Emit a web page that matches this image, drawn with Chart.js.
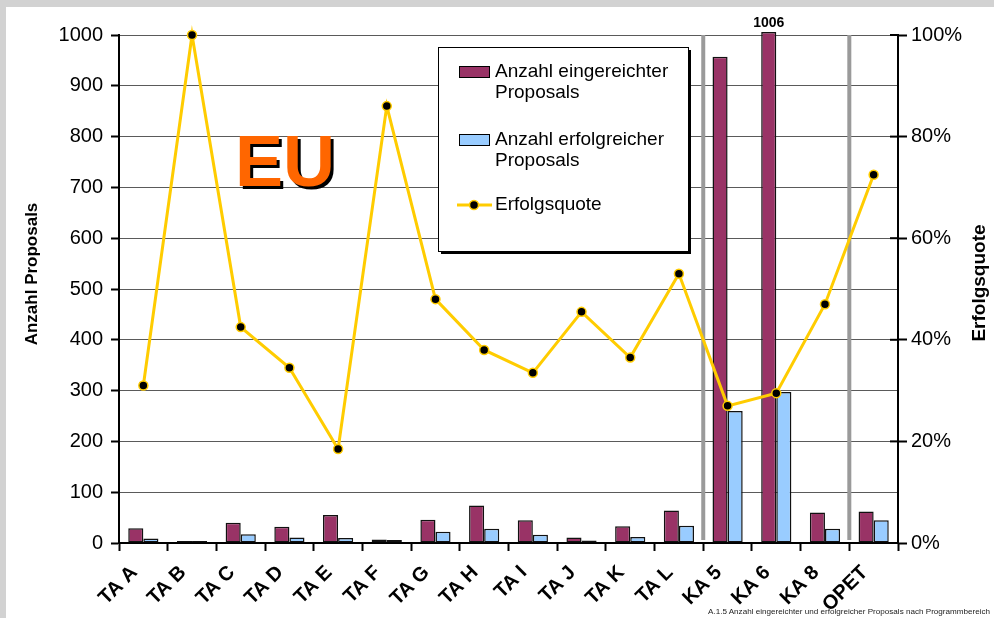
<!DOCTYPE html>
<html>
<head>
<meta charset="utf-8">
<script src="https://cdn.jsdelivr.net/npm/chart.js@4/dist/chart.umd.min.js"></script>
<style>
    html, body { margin: 0; padding: 0; }
    body {
        width: 994px;
        height: 618px;
        overflow: hidden;
        position: relative;
        background: #ffffff;
        font-family: "Liberation Sans", Arial, sans-serif;
    }
    #frameTop { position: absolute; left: 0; top: 0; width: 994px; height: 7px; background: #d2d2d2; }
    #frameLeft { position: absolute; left: 0; top: 0; width: 6px; height: 618px; background: #d2d2d2; }
    #chartBox { position: absolute; left: 6px; top: 7px; width: 988px; height: 611px; }
    #caption {
        position: absolute;
        left: 708px;
        top: 607px;
        font-size: 8.1px;
        color: #222;
        white-space: nowrap;
    }
</style>
</head>
<body>
<div id="frameTop"></div>
<div id="frameLeft"></div>
<div id="chartBox"><canvas id="proposalChart" width="988" height="611"></canvas></div>
<div id="caption">A.1.5 Anzahl eingereichter und erfolgreicher Proposals nach Programmbereich</div>

<script>
// --- Data ---
const categories = ['TA A', 'TA B', 'TA C', 'TA D', 'TA E', 'TA F', 'TA G', 'TA H',
    'TA I', 'TA J', 'TA K', 'TA L', 'KA 5', 'KA 6', 'KA 8', 'OPET'];
const submitted = [29, 4, 40, 32, 55, 7, 46, 74, 45, 11, 33, 64, 957, 1006, 60, 62];
const successful = [9, 4, 17, 11, 10, 6, 22, 28, 16, 5, 12, 34, 260, 297, 28, 45];
const successRate = [31, 100, 42.5, 34.5, 18.5, 86, 48, 38, 33.5, 45.5, 36.5, 53, 27, 29.5, 47, 72.5];

const legendLabels = [
    ['Anzahl eingereichter', 'Proposals'],
    ['Anzahl erfolgreicher', 'Proposals'],
    ['Erfolgsquote']
];
const leftTitle = 'Anzahl Proposals';
const rightTitle = 'Erfolgsquote';
const overlayText = 'EU';
const highlightIndex = 13; // KA 6, value printed above bar
const separatorsAfter = [11, 14]; // gray lines after TA L and KA 8

const FONT = '"Liberation Sans", Arial, sans-serif';
const RED = '#993366';
const BLUE = '#99ccff';
const YELLOW = '#ffcc00';

// --- Plugin: gray separator lines between programme groups ---
const separatorLines = {
    id: 'separatorLines',
    beforeDatasetsDraw(chart) {
        const { ctx, chartArea, scales } = chart;
        ctx.save();
        ctx.strokeStyle = '#9a9a9a';
        ctx.lineWidth = 4;
        separatorsAfter.forEach(i => {
            const x = (scales.x.getPixelForValue(i) + scales.x.getPixelForValue(i + 1)) / 2;
            ctx.beginPath();
            ctx.moveTo(x, chartArea.top);
            ctx.lineTo(x, chartArea.bottom - 3);
            ctx.stroke();
        });
        ctx.restore();
    }
};

// draw a vertical title reading bottom to top
function drawVerticalTitle(ctx, text, x, y, size) {
    ctx.save();
    ctx.font = 'bold ' + size + 'px ' + FONT;
    ctx.textAlign = 'center';
    ctx.textBaseline = 'middle';
    ctx.fillStyle = '#000';
    ctx.translate(x, y);
    ctx.rotate(-Math.PI / 2);
    ctx.fillText(text, 0, 0);
    ctx.restore();
}

// --- Plugin: extras (value label, EU text, legend box, axis titles) ---
const chartExtras = {
    id: 'chartExtras',
    afterDraw(chart) {
        const { ctx, chartArea, scales } = chart;
        ctx.save();

        // inner half of the right axis ticks
        ctx.strokeStyle = '#000';
        ctx.lineWidth = 2;
        scales.y1.ticks.forEach(t => {
            const y = scales.y1.getPixelForValue(t.value);
            ctx.beginPath();
            ctx.moveTo(chartArea.right - 8, y);
            ctx.lineTo(chartArea.right, y);
            ctx.stroke();
        });

        // value above the KA 6 bar
        const bar = chart.getDatasetMeta(1).data[highlightIndex];
        ctx.fillStyle = '#000';
        ctx.font = 'bold 14px ' + FONT;
        ctx.textAlign = 'center';
        ctx.textBaseline = 'alphabetic';
        ctx.fillText(String(submitted[highlightIndex]), bar.x, bar.y - 5);

        // big "EU" with shadow
        ctx.font = 'bold 72px ' + FONT;
        ctx.textAlign = 'left';
        ctx.fillStyle = '#000';
        ctx.fillText(overlayText, 232, 182);
        ctx.fillStyle = '#ff6600';
        ctx.fillText(overlayText, 229, 179);

        // axis titles
        drawVerticalTitle(ctx, leftTitle, 26, 267, 17);
        drawVerticalTitle(ctx, rightTitle, 974, 276, 19);

        // legend box with shadow
        const bx = 432, by = 40, bw = 250, bh = 204;
        ctx.fillStyle = '#000';
        ctx.fillRect(bx + 3, by + 3, bw, bh);
        ctx.fillStyle = '#fff';
        ctx.fillRect(bx, by, bw, bh);
        ctx.strokeStyle = '#000';
        ctx.lineWidth = 1;
        ctx.strokeRect(bx + 0.5, by + 0.5, bw, bh);

        ctx.font = '19px ' + FONT;
        ctx.textAlign = 'left';
        ctx.textBaseline = 'middle';

        // bar entries
        const swatches = [
            { color: RED, top: 59, lines: legendLabels[0] },
            { color: BLUE, top: 127, lines: legendLabels[1] }
        ];
        swatches.forEach(s => {
            ctx.fillStyle = s.color;
            ctx.fillRect(453, s.top, 30, 11);
            ctx.strokeStyle = '#000';
            ctx.strokeRect(453.5, s.top + 0.5, 30, 11);
            ctx.fillStyle = '#000';
            s.lines.forEach((line, i) => ctx.fillText(line, 489, s.top + 6 + i * 20.5));
        });

        // line entry
        ctx.strokeStyle = YELLOW;
        ctx.lineWidth = 3;
        ctx.beginPath();
        ctx.moveTo(451, 198);
        ctx.lineTo(486, 198);
        ctx.stroke();
        ctx.beginPath();
        ctx.arc(468, 198, 4.5, 0, Math.PI * 2);
        ctx.fillStyle = '#000';
        ctx.fill();
        ctx.lineWidth = 1.5;
        ctx.stroke();
        ctx.fillStyle = '#000';
        ctx.fillText(legendLabels[2][0], 489, 198);

        ctx.restore();
    }
};

// --- Chart ---
function initProposalChart(ctxId) {
    const ctx = document.getElementById(ctxId)?.getContext('2d');
    if (!ctx) {
        console.warn(`Canvas element with ID '${ctxId}' not found.`);
        return;
    }

    new Chart(ctx, {
        type: 'bar',
        data: {
            labels: categories,
            datasets: [
                {
                    type: 'line',
                    label: legendLabels[2][0],
                    data: successRate,
                    yAxisID: 'y1',
                    borderColor: YELLOW,
                    borderWidth: 3,
                    pointBackgroundColor: '#000',
                    pointBorderColor: YELLOW,
                    pointBorderWidth: 1.5,
                    pointRadius: 4.5,
                    tension: 0,
                    clip: false,
                    order: 0
                },
                {
                    label: legendLabels[0].join(' '),
                    data: submitted,
                    backgroundColor: RED,
                    borderColor: '#111',
                    borderWidth: 1.5,
                    borderSkipped: false,
                    categoryPercentage: 0.62,
                    barPercentage: 1.0,
                    clip: false,
                    order: 1
                },
                {
                    label: legendLabels[1].join(' '),
                    data: successful,
                    backgroundColor: BLUE,
                    borderColor: '#111',
                    borderWidth: 1.5,
                    borderSkipped: false,
                    categoryPercentage: 0.62,
                    barPercentage: 1.0,
                    order: 1
                }
            ]
        },
        options: {
            responsive: false,
            animation: false,
            devicePixelRatio: 1,
            layout: { padding: { top: 28, left: 0, right: 0, bottom: 0 } },
            plugins: {
                legend: { display: false },
                tooltip: { enabled: false }
            },
            scales: {
                x: {
                    grid: {
                        drawOnChartArea: false,
                        offset: true,
                        tickLength: 8,
                        tickColor: '#000',
                        tickWidth: 2
                    },
                    border: { color: '#000', width: 2 },
                    ticks: {
                        autoSkip: false,
                        maxRotation: 45,
                        minRotation: 45,
                        padding: 10,
                        labelOffset: -9,
                        color: '#000',
                        font: { family: FONT, size: 20, weight: 'bold' }
                    },
                    afterFit(scale) { scale.height = 75; }
                },
                y: {
                    position: 'left',
                    min: 0,
                    max: 1000,
                    ticks: {
                        stepSize: 100,
                        padding: 8,
                        color: '#000',
                        font: { family: FONT, size: 20 },
                        callback: v => String(v)
                    },
                    grid: {
                        color: '#5a5a5a',
                        lineWidth: 1,
                        tickLength: 8,
                        tickColor: '#000',
                        tickWidth: 2
                    },
                    border: { color: '#000', width: 2 },
                    afterFit(scale) { scale.width = 113; }
                },
                y1: {
                    position: 'right',
                    min: 0,
                    max: 100,
                    ticks: {
                        stepSize: 20,
                        padding: 4,
                        color: '#000',
                        font: { family: FONT, size: 20 },
                        callback: v => v + '%'
                    },
                    grid: {
                        drawOnChartArea: false,
                        tickLength: 9,
                        tickColor: '#000',
                        tickWidth: 2
                    },
                    border: { color: '#000', width: 2 },
                    afterFit(scale) { scale.width = 96; }
                }
            }
        },
        plugins: [separatorLines, chartExtras]
    });
}

document.addEventListener('DOMContentLoaded', function () {
    initProposalChart('proposalChart');
});
</script>
</body>
</html>
